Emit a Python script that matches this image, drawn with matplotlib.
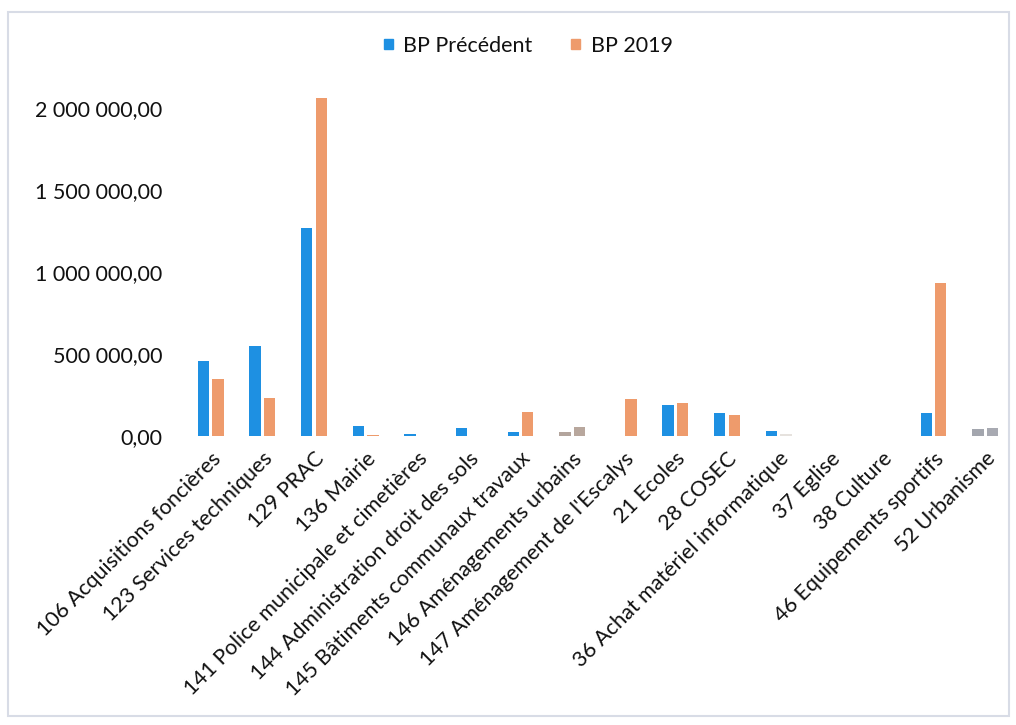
import matplotlib
matplotlib.use("Agg")
import matplotlib.pyplot as plt
import numpy as np
from matplotlib.patches import Rectangle
from matplotlib.ticker import FuncFormatter

categories = [
    "106 Acquisitions foncières", "123 Services techniques", "129 PRAC", "136 Mairie",
    "141 Police municipale et cimetières", "144 Administration droit des sols",
    "145 Bâtiments communaux travaux", "146 Aménagements urbains",
    "147 Aménagement de l'Escalys", "21 Ecoles", "28 COSEC",
    "36 Achat matériel informatique", "37 Eglise", "38 Culture",
    "46 Equipements sportifs", "52 Urbanisme",
]
bp_precedent = [455000, 550000, 1265000, 60000, 12000, 48000, 24000, 24000,
                0, 190000, 140000, 30000, 0, 0, 140000, 43000]
bp_2019 = [350000, 232000, 2062000, 5000, 0, 0, 146000, 55000,
           226000, 200000, 128000, 10000, 0, 0, 935000, 49000]

BLUE = "#1E90E2"
ORANGE = "#EE9B6C"
# the scan shows a few bars greyed out
prec_colors = [BLUE] * len(categories)
new_colors = [ORANGE] * len(categories)
prec_colors[7], new_colors[7] = "#B3A59D", "#B8A79D"
prec_colors[15], new_colors[15] = "#A3A6AE", "#A8AAB2"
new_colors[11] = "#E6E2DE"

plt.rcParams["font.family"] = ["Lato", "DejaVu Sans"]

fig = plt.figure(figsize=(10.16, 7.25), dpi=100)
ax = fig.add_axes([0.182, 0.3986, 0.813, 0.498])

x = np.arange(len(categories))
w = 0.22
ax.bar(x - 0.14, bp_precedent, w, color=prec_colors, label="BP Précédent")
ax.bar(x + 0.14, bp_2019, w, color=new_colors, label="BP 2019")

ax.set_xlim(-0.5, len(categories) - 0.5)
ax.set_ylim(0, 2200000)
ax.set_yticks([0, 500000, 1000000, 1500000, 2000000])
ax.yaxis.set_major_formatter(FuncFormatter(
    lambda v, p: f"{v:,.2f}".replace(",", " ").replace(".", ",")))
ax.set_xticks(x)
ax.set_xticklabels(categories, rotation=45, ha="right", rotation_mode="anchor")
ax.tick_params(axis="both", length=0, labelsize=15.5, colors="#111111")
ax.tick_params(axis="y", pad=16)
ax.tick_params(axis="x", pad=9)
for s in ax.spines.values():
    s.set_visible(False)

handles, labels = ax.get_legend_handles_labels()
leg = fig.legend(handles, labels, loc="center", bbox_to_anchor=(0.52, 0.937),
                 ncol=2, frameon=False, fontsize=15.5, handlelength=0.4,
                 handleheight=0.4, handletextpad=0.5, columnspacing=1.8)
for t in leg.get_texts():
    t.set_color("#111111")
leg.legend_handles[0].set_color(BLUE)
leg.legend_handles[1].set_color(ORANGE)

fig.patches.append(Rectangle((0.008, 0.012), 0.985, 0.972, transform=fig.transFigure,
                             fill=False, edgecolor="#D8DCE6", linewidth=1.5))

fig.savefig("out.png", dpi=100, facecolor="white")
